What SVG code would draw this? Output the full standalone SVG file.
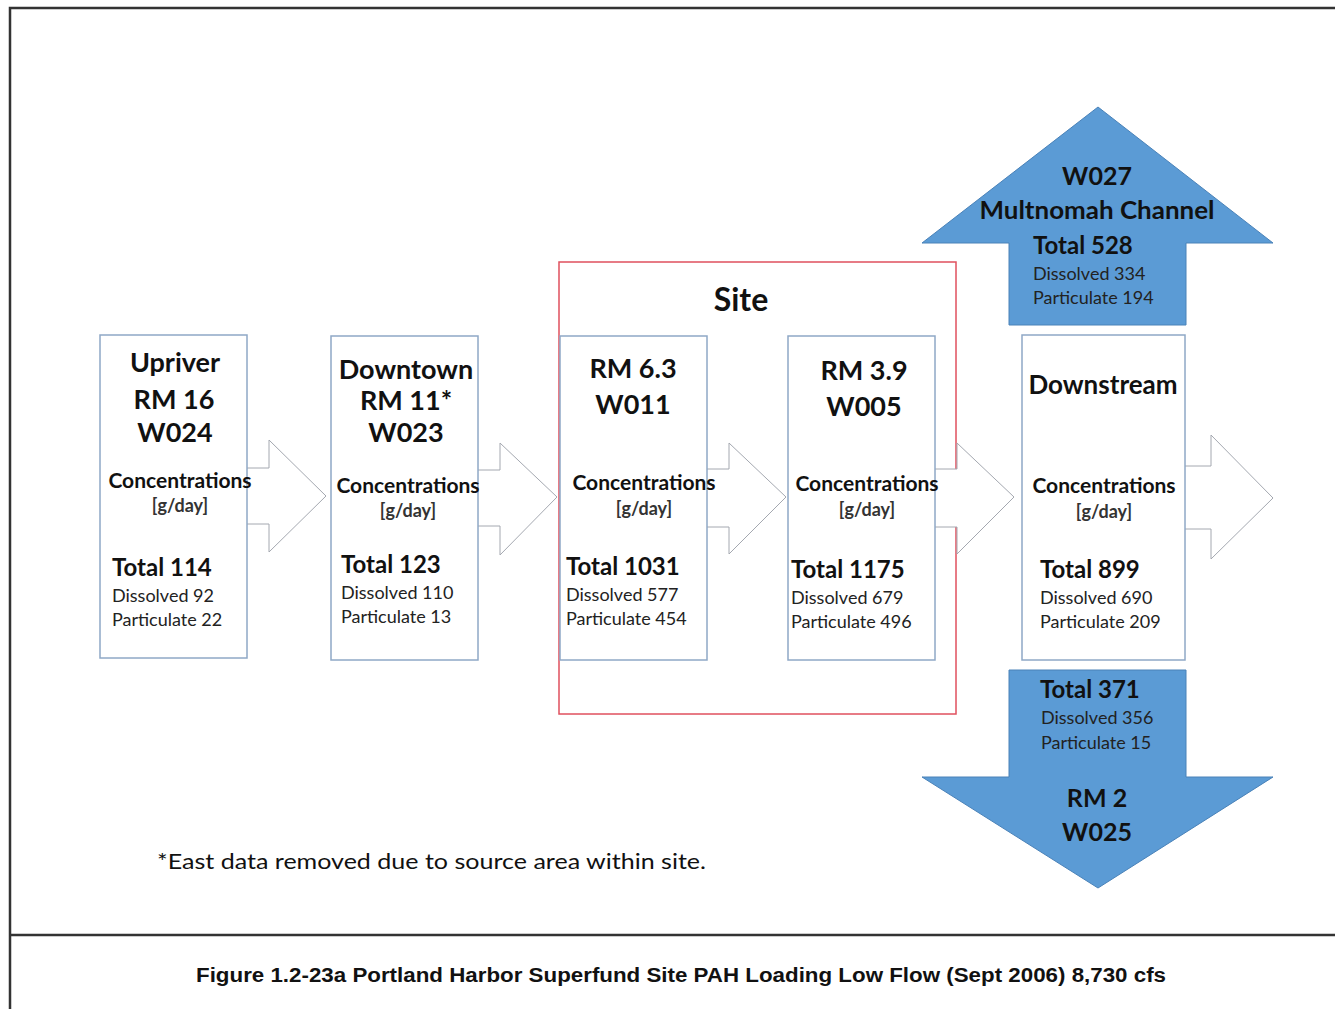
<svg xmlns="http://www.w3.org/2000/svg" width="1335" height="1009" viewBox="0 0 1335 1009">
<style>
text{font-family:Lato,"Open Sans","Liberation Sans",sans-serif;fill:#111}
.h{font-weight:bold;font-size:27px;text-anchor:middle}
.c{font-weight:bold;font-size:21px;text-anchor:middle}
.u{font-size:18px;text-anchor:middle;font-weight:bold;fill:#333}
.t{font-weight:bold;font-size:24px}
.d{font-size:18px;fill:#222}
.box{fill:#fff;stroke:#8fa8c6;stroke-width:1.5}
.arr{fill:#fff;stroke:#a4a8b0;stroke-width:1}
.blue{fill:#5b9bd5;stroke:#4a82b8;stroke-width:1}
</style>
<rect width="1335" height="1009" fill="#fff"/>
<g id="frame" fill="none" stroke="#333" stroke-width="2.5">
<path d="M10,1009 V8 H1335"/>
<path d="M10,935 H1335"/>
</g>
<g id="site">
<rect x="559" y="262" width="397" height="452" fill="none" stroke="#e0505e" stroke-width="1.5"/>
<text x="741" y="311" class="h" style="font-size:32px">Site</text>
</g>
<g id="connectors">
<polygon class="arr" points="240,468 269,468 269,440 326,496 269,552 269,524 240,524"/>
<polygon class="arr" points="470,470 500,470 500,443 557,497 500,555 500,526 470,526"/>
<polygon class="arr" points="700,469 729,469 729,443 786,497 729,554 729,527 700,527"/>
<polygon class="arr" points="930,469 957,469 957,443 1014,497 957,554 957,527 930,527"/>
<polygon class="arr" points="1180,466 1211,466 1211,435 1273,498 1211,559 1211,529 1180,529"/>
</g>
<g id="upriver">
<rect class="box" x="100" y="335" width="147" height="323"/>
<text class="h" x="175" y="372">Upriver</text>
<text class="h" x="174" y="409">RM 16</text>
<text class="h" x="175" y="442">W024</text>
<text class="c" x="180" y="488">Concentrations</text>
<text class="u" x="180" y="512">[g/day]</text>
<text class="t" x="112" y="576">Total 114</text>
<text class="d" x="112" y="602">Dissolved 92</text>
<text class="d" x="112" y="626">Particulate 22</text>
</g>
<g id="downtown">
<rect class="box" x="331" y="336" width="147" height="324"/>
<text class="h" x="406" y="379">Downtown</text>
<text class="h" x="406" y="410">RM 11*</text>
<text class="h" x="406" y="442">W023</text>
<text class="c" x="408" y="493">Concentrations</text>
<text class="u" x="408" y="517">[g/day]</text>
<text class="t" x="341" y="573">Total 123</text>
<text class="d" x="341" y="599">Dissolved 110</text>
<text class="d" x="341" y="623">Particulate 13</text>
</g>
<g id="rm63">
<rect class="box" x="560" y="336" width="147" height="324"/>
<text class="h" x="633" y="378">RM 6.3</text>
<text class="h" x="633" y="414">W011</text>
<text class="c" x="644" y="490">Concentrations</text>
<text class="u" x="644" y="515">[g/day]</text>
<text class="t" x="566" y="575">Total 1031</text>
<text class="d" x="566" y="601">Dissolved 577</text>
<text class="d" x="566" y="625">Particulate 454</text>
</g>
<g id="rm39">
<rect class="box" x="788" y="336" width="147" height="324"/>
<text class="h" x="864" y="380">RM 3.9</text>
<text class="h" x="864" y="416">W005</text>
<text class="c" x="867" y="491">Concentrations</text>
<text class="u" x="867" y="516">[g/day]</text>
<text class="t" x="791" y="578">Total 1175</text>
<text class="d" x="791" y="604">Dissolved 679</text>
<text class="d" x="791" y="628">Particulate 496</text>
</g>
<g id="downstream">
<rect class="box" x="1022" y="335" width="163" height="325"/>
<text class="h" x="1103" y="394" style="font-size:26px">Downstream</text>
<text class="c" x="1104" y="493">Concentrations</text>
<text class="u" x="1104" y="518">[g/day]</text>
<text class="t" x="1040" y="578">Total 899</text>
<text class="d" x="1040" y="604">Dissolved 690</text>
<text class="d" x="1040" y="628">Particulate 209</text>
</g>
<g id="w027">
<polygon class="blue" points="1098,107 1273,243 1186,243 1186,325 1009,325 1009,243 922,243"/>
<text class="h" x="1097" y="185" style="font-size:25px">W027</text>
<text class="h" x="1097" y="219" style="font-size:25px" textLength="235" lengthAdjust="spacingAndGlyphs">Multnomah Channel</text>
<text class="t" x="1033" y="254">Total 528</text>
<text class="d" x="1033" y="280">Dissolved 334</text>
<text class="d" x="1033" y="304">Particulate 194</text>
</g>
<g id="w025">
<polygon class="blue" points="1009,670 1186,670 1186,777 1273,777 1098,888 922,777 1009,777"/>
<text class="t" x="1040" y="698">Total 371</text>
<text class="d" x="1041" y="724">Dissolved 356</text>
<text class="d" x="1041" y="749">Particulate 15</text>
<text class="h" x="1097" y="807" style="font-size:25px">RM 2</text>
<text class="h" x="1097" y="841" style="font-size:25px">W025</text>
</g>
<g id="notes">
<text x="157" y="869" style="font-size:22px" textLength="549" lengthAdjust="spacingAndGlyphs">*East data removed due to source area within site.</text>
<text x="681" y="982" text-anchor="middle" textLength="970" lengthAdjust="spacingAndGlyphs" style="font-family:'Liberation Sans',Arial,sans-serif;font-weight:bold;font-size:20px">Figure 1.2-23a Portland Harbor Superfund Site PAH Loading Low Flow (Sept 2006) 8,730 cfs</text>
</g>
</svg>
